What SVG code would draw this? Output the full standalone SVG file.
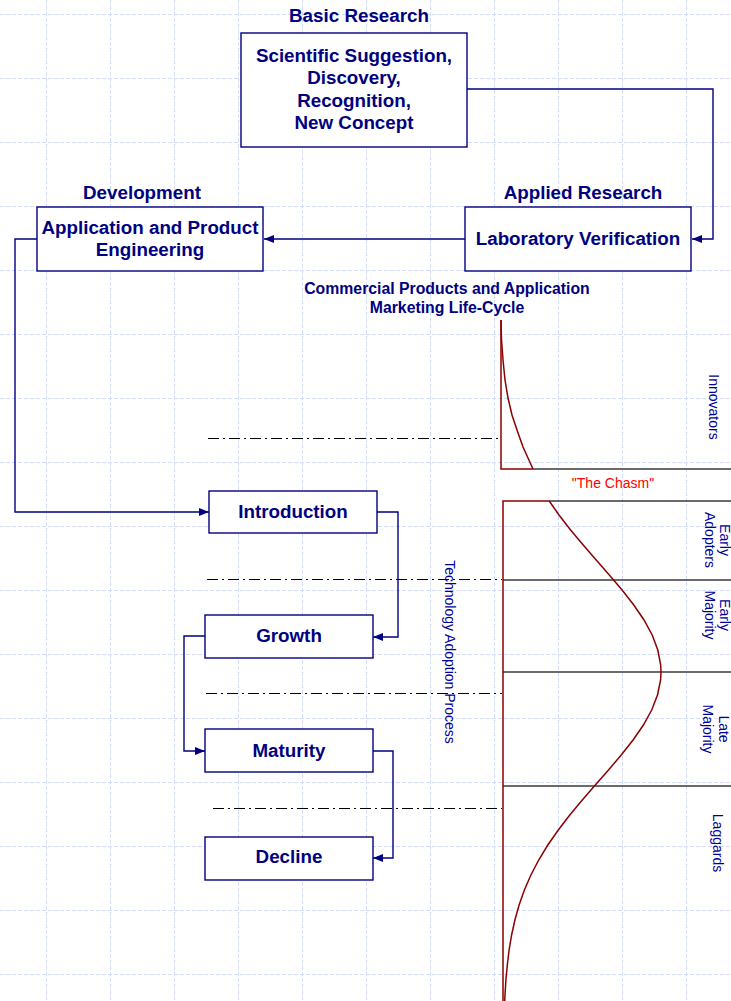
<svg xmlns="http://www.w3.org/2000/svg" width="731" height="1001" viewBox="0 0 731 1001">
  <style>
    .grid line { stroke: #d2dcf8; stroke-width: 1; stroke-dasharray: 4 2; }
    .box { fill: #ffffff; stroke: #000080; stroke-width: 1.4; }
    .bt { font-family: "Liberation Sans", Arial, Helvetica, sans-serif; font-weight: bold; font-size: 18.8px; fill: #000080; text-anchor: middle; }
    .st { font-family: "Liberation Sans", Arial, Helvetica, sans-serif; font-weight: bold; font-size: 15.8px; fill: #000080; text-anchor: middle; }
    .rt { font-family: "Liberation Sans", Arial, Helvetica, sans-serif; font-size: 14px; fill: #000099; text-anchor: middle; }
    .conn path { fill: none; stroke: #000080; stroke-width: 1.4; marker-end: url(#arrow); }
    .dd { stroke: #000000; stroke-width: 1.2; stroke-dasharray: 11 4 2 4; }
    .band { stroke: #3a3a3a; stroke-width: 1.3; }
    .curve { fill: none; stroke: #8b0000; stroke-width: 1.5; }
  </style>
  <defs>
    <marker id="arrow" markerUnits="userSpaceOnUse" markerWidth="11" markerHeight="9" refX="10" refY="4" orient="auto">
      <path d="M0,0 L10,4 L0,8 z" fill="#000080"/>
    </marker>
  </defs>

  <rect width="731" height="1001" fill="#ffffff"/>

  <!-- background grid -->
  <g class="grid">
    <line x1="46.5" y1="0" x2="46.5" y2="1001"/>
    <line x1="110.5" y1="0" x2="110.5" y2="1001"/>
    <line x1="174.5" y1="0" x2="174.5" y2="1001"/>
    <line x1="238.5" y1="0" x2="238.5" y2="1001"/>
    <line x1="302.5" y1="0" x2="302.5" y2="1001"/>
    <line x1="366.5" y1="0" x2="366.5" y2="1001"/>
    <line x1="430.5" y1="0" x2="430.5" y2="1001"/>
    <line x1="494.5" y1="0" x2="494.5" y2="1001"/>
    <line x1="558.5" y1="0" x2="558.5" y2="1001"/>
    <line x1="622.5" y1="0" x2="622.5" y2="1001"/>
    <line x1="686.5" y1="0" x2="686.5" y2="1001"/>
    <line x1="0" y1="14.5" x2="731" y2="14.5"/>
    <line x1="0" y1="78.5" x2="731" y2="78.5"/>
    <line x1="0" y1="142.5" x2="731" y2="142.5"/>
    <line x1="0" y1="206.5" x2="731" y2="206.5"/>
    <line x1="0" y1="270.5" x2="731" y2="270.5"/>
    <line x1="0" y1="334.5" x2="731" y2="334.5"/>
    <line x1="0" y1="398.5" x2="731" y2="398.5"/>
    <line x1="0" y1="462.5" x2="731" y2="462.5"/>
    <line x1="0" y1="526.5" x2="731" y2="526.5"/>
    <line x1="0" y1="590.5" x2="731" y2="590.5"/>
    <line x1="0" y1="654.5" x2="731" y2="654.5"/>
    <line x1="0" y1="718.5" x2="731" y2="718.5"/>
    <line x1="0" y1="782.5" x2="731" y2="782.5"/>
    <line x1="0" y1="846.5" x2="731" y2="846.5"/>
    <line x1="0" y1="910.5" x2="731" y2="910.5"/>
    <line x1="0" y1="974.5" x2="731" y2="974.5"/>
  </g>

  <!-- stage separators -->
  <g id="separators">
    <line class="dd" x1="208" y1="438.5" x2="500" y2="438.5"/>
    <line class="dd" x1="207" y1="579.5" x2="502" y2="579.5"/>
    <line class="dd" x1="206" y1="693.5" x2="502" y2="693.5"/>
    <line class="dd" x1="213" y1="808.5" x2="502" y2="808.5"/>
  </g>

  <!-- adoption curve -->
  <g id="adoption-curve">
    <line class="band" x1="533" y1="469" x2="731" y2="469"/>
    <line class="band" x1="549" y1="501" x2="731" y2="501"/>
    <line class="band" x1="503" y1="580" x2="731" y2="580"/>
    <line class="band" x1="503" y1="672" x2="731" y2="672"/>
    <line class="band" x1="503" y1="786" x2="731" y2="786"/>
    <!-- innovators tail -->
    <path class="curve" d="M533,469 H501 V320"/>
    <polyline class="curve" points="501,320 501.5,340 503,360 505,380 508,398 512,415 517,430 523,447 528,458 533,469"/>
    <!-- main bell -->
    <path class="curve" d="M503,1001 V501 H549.2"/>
    <polyline class="curve" points="549.2,501 559,515 570.6,530 583.2,545 596.2,560 609.3,575 622.1,590 633.8,605 644,620 652.2,635 657.8,650 660.7,665 661,672 660.6,680 657.5,695 651.7,710 643.4,725 633.1,740 621.2,755 608.5,770 595.3,785 582.3,800 569.8,815 558.3,830 547.8,845 538.7,860 530.9,875 524.4,890 519.1,905 514.9,920 511.6,935 509.1,950 507.3,965 505.9,980 505,995 504.7,1001"/>
  </g>

  <!-- curve labels -->
  <g id="curve-labels">
    <text class="rt" transform="translate(709,407) rotate(90)">Innovators</text>
    <text class="rt" transform="translate(720,540) rotate(90)">Early</text>
    <text class="rt" transform="translate(705,540) rotate(90)">Adopters</text>
    <text class="rt" transform="translate(720,615) rotate(90)">Early</text>
    <text class="rt" transform="translate(705,615) rotate(90)">Majority</text>
    <text class="rt" transform="translate(719,729) rotate(90)">Late</text>
    <text class="rt" transform="translate(703,729) rotate(90)">Majority</text>
    <text class="rt" transform="translate(713,843) rotate(90)">Laggards</text>
    <text class="rt" transform="translate(445,652) rotate(90)">Technology Adoption Process</text>
    <text class="rt" x="613" y="488" style="fill:#ff0000">"The Chasm"</text>
    <text class="st" x="447" y="294">Commercial Products and Application</text>
    <text class="st" x="447" y="313">Marketing Life-Cycle</text>
  </g>

  <!-- connectors -->
  <g id="connectors" class="conn">
    <path d="M467,89 H713 V239 H692"/>
    <path d="M465,239 H264"/>
    <path d="M37,239 H15 V512 H209"/>
    <path d="M377,512 H398 V637 H373"/>
    <path d="M205,636 H184 V751 H205"/>
    <path d="M373,751 H393 V858 H373"/>
  </g>

  <!-- nodes -->
  <g id="basic-research">
    <text class="bt" x="359" y="22">Basic Research</text>
    <rect class="box" x="241" y="33" width="226" height="114"/>
    <text class="bt" x="354" y="62">Scientific Suggestion,</text>
    <text class="bt" x="354" y="84">Discovery,</text>
    <text class="bt" x="354" y="107">Recognition,</text>
    <text class="bt" x="354" y="129">New Concept</text>
  </g>

  <g id="applied-research">
    <text class="bt" x="583" y="199">Applied Research</text>
    <rect class="box" x="465" y="207" width="226" height="64"/>
    <text class="bt" x="578" y="245">Laboratory Verification</text>
  </g>

  <g id="development">
    <text class="bt" x="142" y="199">Development</text>
    <rect class="box" x="37" y="207" width="226" height="64"/>
    <text class="bt" x="150" y="234">Application and Product</text>
    <text class="bt" x="150" y="256">Engineering</text>
  </g>

  <g id="introduction">
    <rect class="box" x="209" y="491" width="168" height="42"/>
    <text class="bt" x="293" y="518">Introduction</text>
  </g>

  <g id="growth">
    <rect class="box" x="205" y="615" width="168" height="43"/>
    <text class="bt" x="289" y="642">Growth</text>
  </g>

  <g id="maturity">
    <rect class="box" x="205" y="729" width="168" height="43"/>
    <text class="bt" x="289" y="757">Maturity</text>
  </g>

  <g id="decline">
    <rect class="box" x="205" y="837" width="168" height="43"/>
    <text class="bt" x="289" y="863">Decline</text>
  </g>
</svg>
